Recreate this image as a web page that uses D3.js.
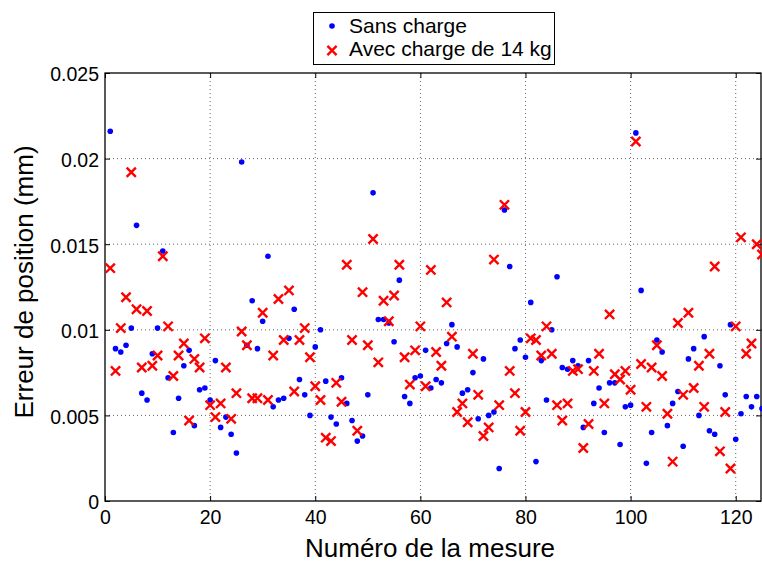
<!DOCTYPE html>
<html><head><meta charset="utf-8">
<script src="https://cdn.jsdelivr.net/npm/d3@7"></script>
<style>body{margin:0;background:#fff}svg{display:block}text{font-family:"Liberation Sans",Arial,sans-serif}</style>
</head><body>
<script>
const xTicks=[0,20,40,60,80,100,120];
const yTicks=[0,0.005,0.01,0.015,0.02,0.025];
const yTickLabels=["0","0.005","0.01","0.015","0.02","0.025"];
const seriesNames=["Sans charge","Avec charge de 14 kg"];
const sansCharge=[0.0216,0.0089,0.0087,0.0091,0.0101,0.0161,0.0063,0.0059,0.0086,0.0101,
0.0146,0.0072,0.0040,0.0060,0.0079,0.0088,0.0044,0.0065,0.0066,0.0059,
0.0082,0.0043,0.0049,0.0039,0.0028,0.0198,0.0091,0.0117,0.0089,0.0105,
0.0143,0.0055,0.0059,0.0060,0.0095,0.0112,0.0071,0.0062,0.0050,0.0090,
0.0100,0.0070,0.0049,0.0045,0.0072,0.0057,0.0047,0.0035,0.0038,0.0062,
0.0180,0.0106,0.0106,0.0104,0.0093,0.0129,0.0061,0.0057,0.0072,0.0073,
0.0088,0.0066,0.0071,0.0069,0.0092,0.0103,0.0090,0.0063,0.0065,0.0075,
0.0048,0.0083,0.0050,0.0052,0.0019,0.0170,0.0137,0.0089,0.0094,0.0084,
0.0116,0.0023,0.0082,0.0059,0.0100,0.0131,0.0078,0.0077,0.0082,0.0079,
0.0043,0.0082,0.0057,0.0066,0.0040,0.0069,0.0069,0.0033,0.0055,0.0056,
0.0215,0.0123,0.0022,0.0040,0.0094,0.0087,0.0044,0.0057,0.0064,0.0032,
0.0083,0.0089,0.0050,0.0096,0.0041,0.0039,0.0079,0.0062,0.0103,0.0036,
0.0051,0.0061,0.0055,0.0061,0.0054];
const avecCharge=[0.0136,0.0076,0.0101,0.0119,0.0192,0.0112,0.0078,0.0111,0.0079,0.0085,
0.0143,0.0102,0.0073,0.0085,0.0092,0.0047,0.0083,0.0078,0.0095,0.0056,
0.0049,0.0057,0.0078,0.0048,0.0063,0.0099,0.0091,0.0060,0.0060,0.0110,
0.0059,0.0085,0.0118,0.0094,0.0123,0.0064,0.0094,0.0101,0.0084,0.0067,
0.0059,0.0037,0.0035,0.0069,0.0058,0.0138,0.0094,0.0041,0.0122,0.0091,
0.0153,0.0081,0.0117,0.0105,0.0120,0.0138,0.0084,0.0068,0.0088,0.0102,
0.0067,0.0135,0.0087,0.0079,0.0116,0.0096,0.0052,0.0057,0.0046,0.0086,
0.0062,0.0038,0.0043,0.0141,0.0056,0.0173,0.0076,0.0063,0.0041,0.0052,
0.0095,0.0094,0.0085,0.0102,0.0086,0.0056,0.0047,0.0057,0.0076,0.0077,
0.0031,0.0045,0.0076,0.0086,0.0057,0.0109,0.0074,0.0071,0.0076,0.0065,
0.0210,0.0080,0.0055,0.0078,0.0091,0.0073,0.0051,0.0023,0.0104,0.0062,
0.0110,0.0066,0.0079,0.0055,0.0086,0.0137,0.0029,0.0052,0.0019,0.0102,
0.0154,0.0086,0.0092,0.0150,0.0144];

const W=762,H=563;
const m={l:105,r:762,t:73,b:501};
const svg=d3.select("body").append("svg").attr("width",W).attr("height",H);
const x=d3.scaleLinear().domain([0,125]).range([m.l,m.r]);
const y=d3.scaleLinear().domain([0,0.025]).range([m.b,m.t]);

// grid
const g=svg.append("g");
g.selectAll("line.gx").data(xTicks.filter(d=>d>0)).enter().append("line")
 .attr("x1",d=>x(d)).attr("x2",d=>x(d)).attr("y1",m.t).attr("y2",m.b)
 .attr("stroke","#666").attr("stroke-width",1).attr("stroke-dasharray","1,3");
g.selectAll("line.gy").data(yTicks.filter(d=>d>0&&d<0.025)).enter().append("line")
 .attr("y1",d=>y(d)).attr("y2",d=>y(d)).attr("x1",m.l).attr("x2",m.r)
 .attr("stroke","#666").attr("stroke-width",1).attr("stroke-dasharray","1,3");

// axes
const fs=19.5;
const xAxis=d3.axisBottom(x).tickValues(xTicks).tickSize(-5).tickPadding(9).tickFormat(d3.format("d"));
const yAxis=d3.axisLeft(y).tickValues(yTicks).tickSize(-5).tickPadding(6).tickFormat((d,i)=>yTickLabels[i]);
const ax=svg.append("g").attr("transform",`translate(0,${m.b})`).call(xAxis);
const ay=svg.append("g").attr("transform",`translate(${m.l},0)`).call(yAxis);
const axT=svg.append("g").attr("transform",`translate(0,${m.t})`).call(d3.axisTop(x).tickValues(xTicks).tickSize(-5).tickFormat(""));
const ayR=svg.append("g").attr("transform",`translate(${m.r-1},0)`).call(d3.axisRight(y).tickValues(yTicks).tickSize(-5).tickFormat(""));
[ax,ay,axT,ayR].forEach(a=>{a.select(".domain").remove();a.selectAll("line").attr("stroke","#000");
 a.selectAll("text").attr("font-size",fs).attr("fill","#000").attr("font-family","Liberation Sans, Arial, sans-serif");});
ay.selectAll("text").attr("dy","0.4em");
svg.append("rect").attr("x",m.l).attr("y",m.t).attr("width",m.r-1-m.l).attr("height",m.b-m.t)
 .attr("fill","none").attr("stroke","#000").attr("stroke-width",1.3);

// data
const plot=svg.append("g");
plot.selectAll("circle").data(sansCharge).enter().append("circle")
 .attr("cx",(d,i)=>x(i+1)).attr("cy",d=>y(d)).attr("r",2.8).attr("fill","#0000ff");
const s=4.6;
const cr=plot.selectAll("g.cross").data(avecCharge).enter().append("g")
 .attr("transform",(d,i)=>`translate(${x(i+1)},${y(d)})`);
cr.append("path").attr("d",`M${-s},${-s}L${s},${s}M${-s},${s}L${s},${-s}`)
 .attr("stroke","#ff0000").attr("stroke-width",2.4).attr("fill","none");

// axis titles
svg.append("text").attr("x",430).attr("y",557).attr("text-anchor","middle")
 .attr("font-size",26).text("Numéro de la mesure");
svg.append("text").attr("transform",`translate(33,282) rotate(-90)`).attr("text-anchor","middle")
 .attr("font-size",26).text("Erreur de position (mm)");

// legend
const lg=svg.append("g");
lg.append("rect").attr("x",313.5).attr("y",12.5).attr("width",241).attr("height",52)
 .attr("fill","#fff").attr("stroke","#000").attr("stroke-width",1);
lg.append("circle").attr("cx",332).attr("cy",26).attr("r",2.8).attr("fill","#0000ff");
lg.append("path").attr("d",`M${332-s},${50.5-s}L${332+s},${50.5+s}M${332-s},${50.5+s}L${332+s},${50.5-s}`)
 .attr("stroke","#ff0000").attr("stroke-width",2.4);
lg.append("text").attr("x",349).attr("y",33).attr("font-size",21).text(seriesNames[0]);
lg.append("text").attr("x",349).attr("y",56).attr("font-size",21).text(seriesNames[1]);
</script>
</body></html>
